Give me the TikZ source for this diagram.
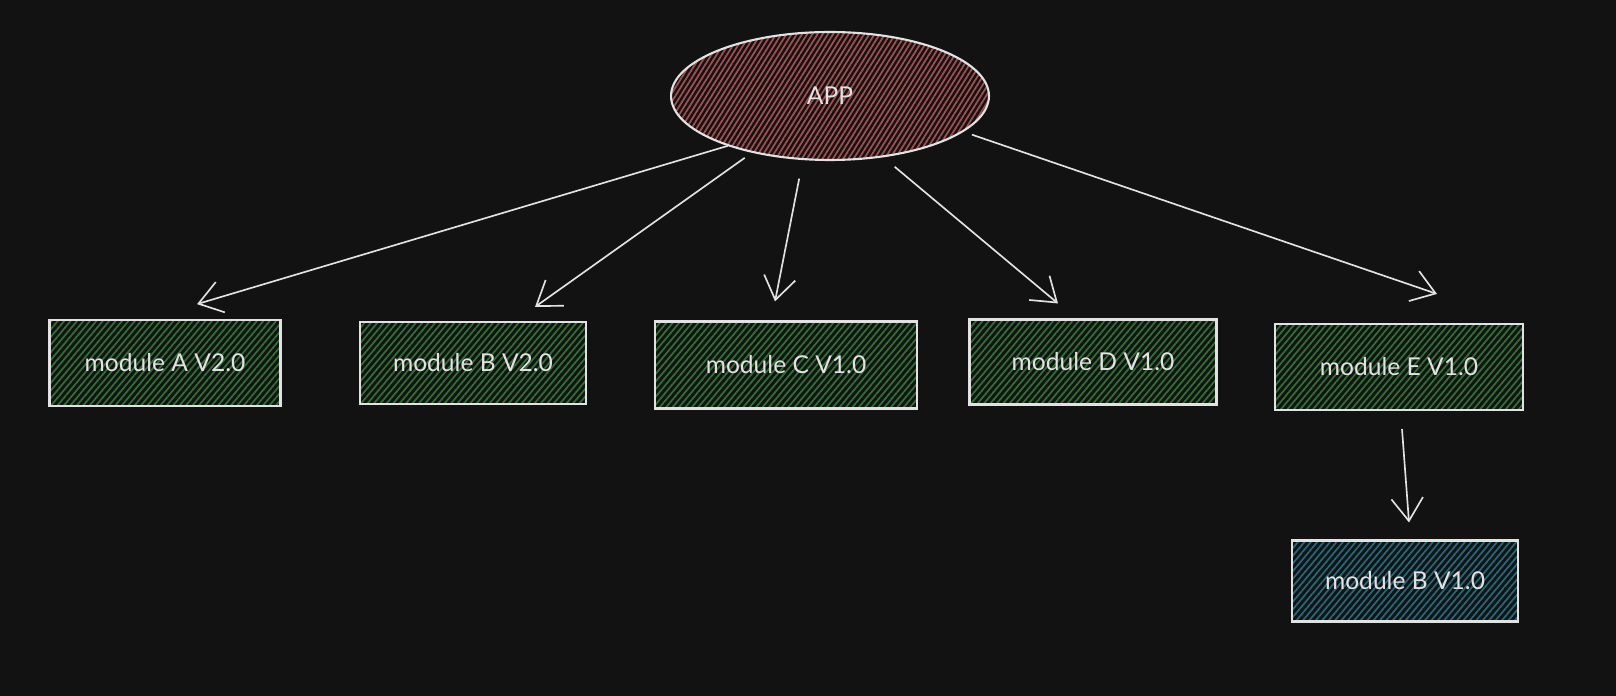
\documentclass[tikz,border=0pt]{standalone}
\usepackage{fontspec}
\setmainfont{Lato}
\usetikzlibrary{shapes.geometric,arrows.meta,patterns.meta}
\definecolor{bgdark}{HTML}{121212}
\definecolor{inkgray}{HTML}{E2E2E2}
\definecolor{hatchred}{HTML}{A14F4F}
\definecolor{hatchgreen}{HTML}{2F7035}
\definecolor{hatchblue}{HTML}{22697C}
\tikzset{
  modbox/.style={draw=inkgray, line width=1.2pt, text=inkgray, inner sep=0pt,
    pattern={Lines[angle=50,distance=2.8pt,line width=1pt]}, pattern color=hatchgreen,
    font=\fontsize{14}{16}\selectfont},
  appoval/.style={ellipse, draw=inkgray, line width=1.2pt, text=inkgray, inner sep=0pt,
    pattern={Lines[angle=58,distance=2.5pt,line width=1pt]}, pattern color=hatchred,
    font=\fontsize{14}{16}\selectfont},
  deparrow/.style={draw=inkgray, line width=0.95pt, -{Straight Barb[length=13pt,width=18pt,line width=0.95pt]}}
}
\begin{document}
\begin{tikzpicture}[x=0.02cm,y=0.02cm]
                        % Background
                        \fill [bgdark] (0,0) rectangle (1616,696);%

                        % Drawing node APP
                        \node [appoval, minimum width=6.36cm, minimum height=2.56cm] (app) at (830,600) {APP};%

                        % Drawing node module A
                        \node [modbox, minimum width=4.62cm, minimum height=1.72cm] (modA) at (165,333) {module A V2.0};%

                        % Drawing node module B
                        \node [modbox, minimum width=4.52cm, minimum height=1.64cm] (modB) at (473,333) {module B V2.0};%

                        % Drawing node module C
                        \node [modbox, minimum width=5.24cm, minimum height=1.74cm] (modC) at (786,331) {module C V1.0};%

                        % Drawing node module D
                        \node [modbox, minimum width=4.94cm, minimum height=1.70cm] (modD) at (1093,334) {module D V1.0};%

                        % Drawing node module E
                        \node [modbox, minimum width=4.96cm, minimum height=1.72cm] (modE) at (1399,329) {module E V1.0};%

                        % Drawing node old module B
                        \node [modbox, pattern color=hatchblue, minimum width=4.52cm, minimum height=1.62cm] (modBold) at (1405,115) {module B V1.0};%

                        % Drawing arrows from APP
                        \draw [deparrow] (app.206) -- ([shift={(32,15)}]modA.north);%
                        \draw [deparrow, shorten <=0.18cm] (app.216) -- ([shift={(62,14)}]modB.north);%
                        \draw [deparrow, shorten <=0.38cm] (app.247) -- ([shift={(-11,19)}]modC.north);%
                        \draw [deparrow, shorten <=0.30cm] (app.311) -- ([shift={(-35,15)}]modD.north);%
                        \draw [deparrow, shorten <=0.18cm] (app.345) -- ([shift={(38,29)}]modE.north);%

                        % Drawing arrow from module E
                        \draw [deparrow] ([shift={(3,-18)}]modE.south) -- ([shift={(4,17)}]modBold.north);%
\end{tikzpicture}
\end{document}
